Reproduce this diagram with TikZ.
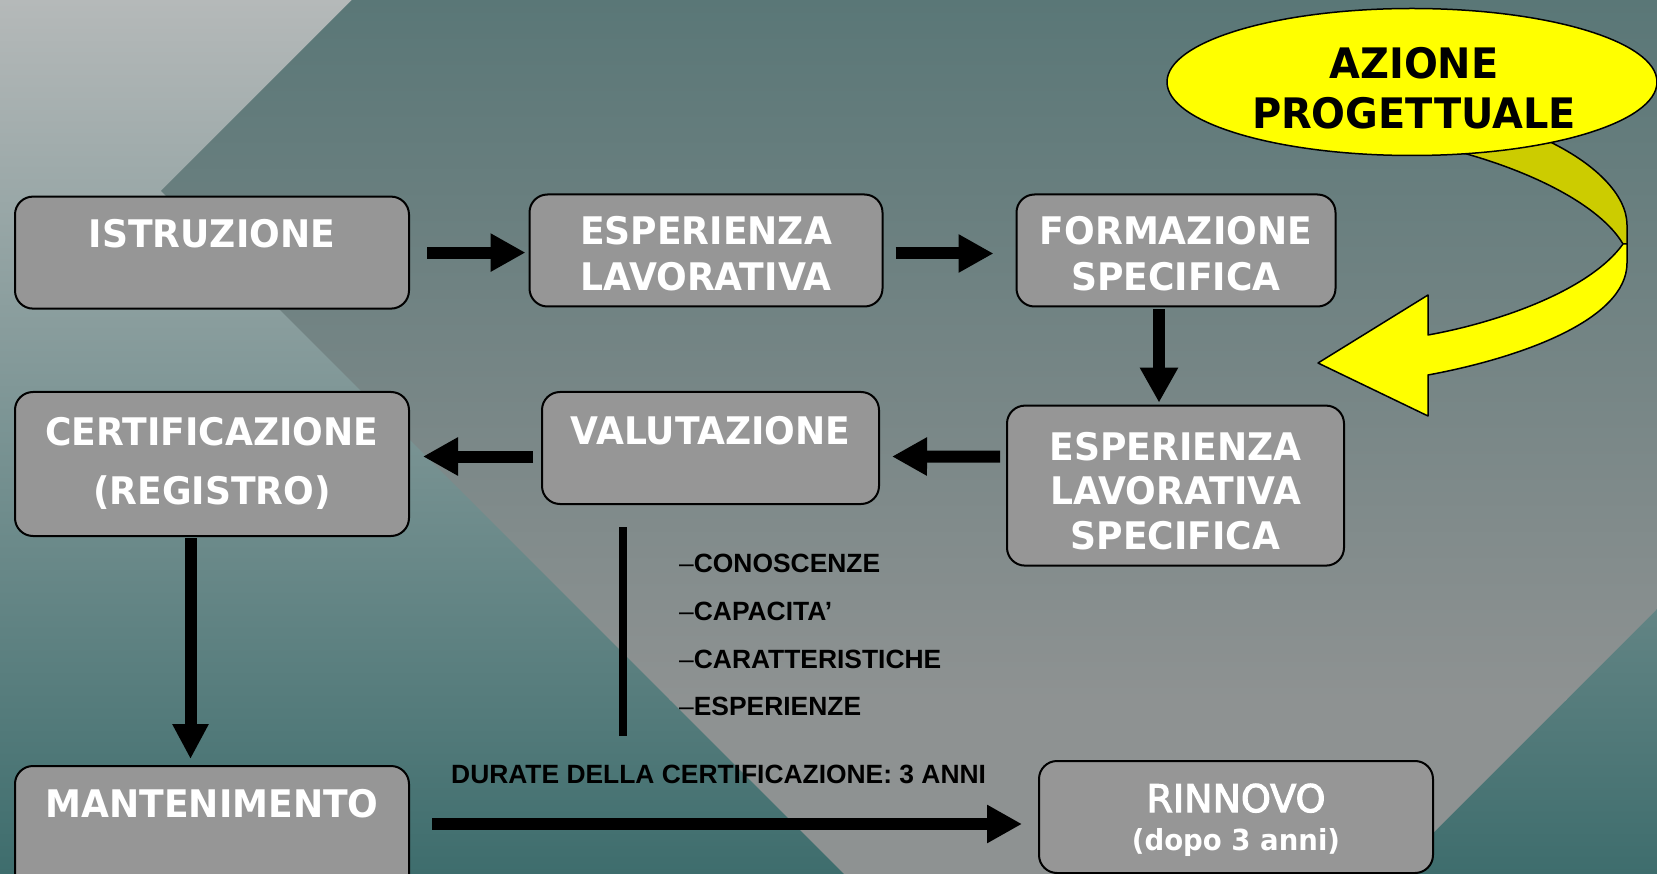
\documentclass[tikz,border=0pt]{standalone}
\usepackage{fontspec}
\setmainfont{Liberation Sans}
\newfontfamily\boxfont{DejaVu Sans}[FakeStretch=0.95]
\newfontfamily\boxfontm{DejaVu Sans}[FakeBold=3]
\newfontfamily\arialf{Liberation Sans}
\usetikzlibrary{arrows.meta,shapes.geometric}
\definecolor{boxgray}{HTML}{969696}
\definecolor{bgtop}{HTML}{B5B9B9}
\definecolor{bgbot}{HTML}{3E6D6D}
\definecolor{dtop}{HTML}{5A7777}
\definecolor{dbot}{HTML}{8E9292}
\definecolor{ylw}{HTML}{FFFF00}
\definecolor{dylw}{HTML}{CCCC00}
\tikzset{
  box/.style={draw=black, line width=2pt, fill=boxgray, rounded corners=18pt, inner sep=0pt},
  btxt/.style={text=white, font=\boxfont\bfseries\fontsize{38}{46}\selectfont, inner sep=0pt, anchor=base},
  ytxt/.style={text=black, font=\boxfont\bfseries\fontsize{42}{50}\selectfont, inner sep=0pt, anchor=base},
  blk/.style={draw=black, line width=12pt, -{Triangle[length=35pt,width=36pt]}},
  blkv/.style={draw=black, line width=12pt, -{Triangle[length=35pt,width=34pt]}},
  listtxt/.style={font=\arialf\bfseries\fontsize{26.4}{30}\selectfont, anchor=base west, inner sep=0pt, text=black},
  ribbon/.style={draw=black, line width=1.5pt, line join=round},
}
\begin{document}
\begin{tikzpicture}[x=1pt,y=-1pt]
\useasboundingbox (0,0) rectangle (1657,874);
\clip (0,0) rectangle (1657,874);
% background
\shade[top color=bgtop, bottom color=bgbot] (0,0) rectangle (1657,874);
\begin{scope}
  \clip (161,191) -- (352,0) -- (1657,0) -- (1657,609) -- (1118,1148) -- cycle;
  \shade[top color=dtop, bottom color=dbot] (0,0) rectangle (1657,700);
  \fill[dbot] (0,699) rectangle (1657,874);
\end{scope}

% curved yellow arrow (back part)
\fill[dylw] (1546,140) .. controls (1595,163) and (1627,195) .. (1627,225) -- (1627,244) -- (1623,244)
  .. controls (1600,205) and (1530,170) .. (1452,150) -- (1500,130) -- cycle;
\draw[ribbon] (1546,140) .. controls (1595,163) and (1627,195) .. (1627,225) -- (1627,244);
\draw[ribbon] (1623,244) .. controls (1600,205) and (1530,170) .. (1452,150);

% ellipse
\node[ellipse, draw=black, line width=1.5pt, fill=ylw, minimum width=490pt, minimum height=147pt, inner sep=0pt] (azione) at (1412,82) {};
\node[ytxt] (azT1) at (1414,78.3) {AZIONE};
\node[ytxt] (azT2) at (1414,129) {PROGETTUALE};

% curved yellow arrow (front part)
\filldraw[ribbon, fill=ylw] (1623,244) -- (1627,244) -- (1627,263)
  .. controls (1627,320) and (1520,358) .. (1428,375) -- (1428,416) -- (1318,363) -- (1428,295) -- (1428,335)
  .. controls (1500,322) and (1590,290) .. (1623,244) -- cycle;

% boxes
\node[box, minimum width=394pt, minimum height=112pt] (istr) at (212,252.6) {};
\node[box, minimum width=353pt, minimum height=112pt] (esp) at (706,250.5) {};
\node[box, minimum width=319pt, minimum height=112pt] (form) at (1176,250.5) {};
\node[box, minimum width=337pt, minimum height=160pt] (espls) at (1175.5,485.6) {};
\node[box, minimum width=337pt, minimum height=112pt] (valut) at (710.5,448) {};
\node[box, minimum width=394pt, minimum height=144pt] (cert) at (212,464) {};
\node[box, minimum width=394pt, minimum height=134pt] (mant) at (212,833) {};
\node[box, minimum width=394pt, minimum height=112pt] (rinn) at (1236,817) {};

% box texts
\node[btxt] (istrT) at (212,248) {ISTRUZIONE};
\node[btxt] (espT1) at (706,245) {ESPERIENZA};
\node[btxt] (espT2) at (706,291) {LAVORATIVA};
\node[btxt] (formT1) at (1176,245) {FORMAZIONE};
\node[btxt] (formT2) at (1176,291) {SPECIFICA};
\node[btxt] (esplsT1) at (1175.5,460) {ESPERIENZA};
\node[btxt] (esplsT2) at (1175.5,504) {LAVORATIVA};
\node[btxt] (esplsT3) at (1175.5,549) {SPECIFICA};
\node[btxt] (valutT) at (710.5,444) {VALUTAZIONE};
\node[btxt] (certT1) at (212,445) {CERTIFICAZIONE};
\node[btxt] (certT2) at (212,504) {(REGISTRO)};
\node[btxt] (mantT) at (212,817) {MANTENIMENTO};
\node[btxt, font=\boxfontm\fontsize{38}{46}\selectfont] (rinnT1) at (1236,812) {RINNOVO};
\node[btxt, font=\boxfont\bfseries\fontsize{29}{34}\selectfont] (rinnT2) at (1236,850) {(dopo 3 anni)};

% block arrows
\draw[blk] ([xshift=17pt]istr.east) -- ([xshift=-3pt]istr.east -| esp.west);
\draw[blk] ([xshift=12pt,yshift=-3pt]esp.east) -- ([xshift=-22pt,yshift=-3pt]esp.east -| form.west);
\draw[blk] ([xshift=-17pt,yshift=-2pt]form.south) -- ([xshift=-17pt,yshift=2pt]form.south |- espls.north);
\draw[blk] ([shift={(-6pt,29pt)}]espls.west) -- ([xshift=12pt,yshift=-8.5pt]valut.east);
\draw[blk] ([xshift=-8pt,yshift=-8.5pt]valut.west) -- ([xshift=13pt,yshift=7.5pt]cert.east);
\draw[blkv] ([xshift=-21.5pt,yshift=-1pt]cert.south) -- ([xshift=-21.5pt,yshift=6pt]cert.south |- mant.north);
\draw[blk] ([xshift=22pt,yshift=9pt]mant.east) -- ([xshift=-16pt,yshift=-7pt]rinn.west);

% vertical line and list
\coordinate (vl1) at (623,527);
\coordinate (vl2) at (623,736);
\draw[black, line width=8pt] (vl1) -- (vl2);
\node[listtxt] (l1) at (679,572) {{\mdseries –}CONOSCENZE};
\node[listtxt] (l2) at (679,620) {{\mdseries –}CAPACITA’};
\node[listtxt] (l3) at (679,668) {{\mdseries –}CARATTERISTICHE};
\node[listtxt] (l4) at (679,715) {{\mdseries –}ESPERIENZE};
\node[listtxt] (dur) at (451,783) {DURATE DELLA CERTIFICAZIONE: 3 ANNI};
\end{tikzpicture}
\end{document}
